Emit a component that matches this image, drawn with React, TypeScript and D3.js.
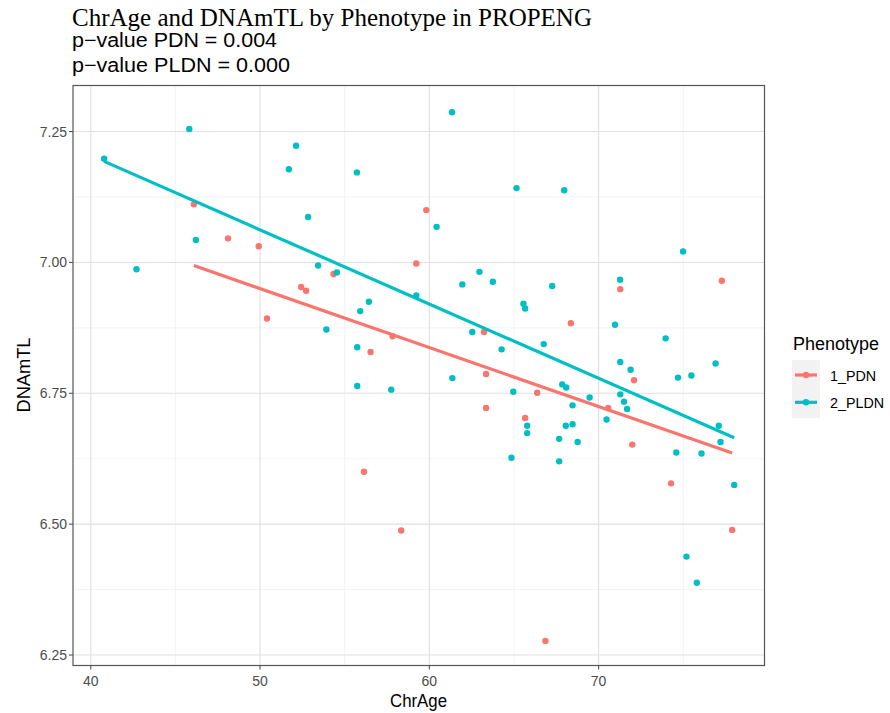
import React from "react";
import * as d3 from "d3";

// ChrAge (x) and DNAmTL (y) per phenotype
const pdnAge = [46.09, 48.11, 49.92, 50.41, 52.43, 52.72, 54.34, 59.82, 59.23, 57.83, 56.53, 63.23, 63.35, 63.35, 56.14, 58.34, 65.66, 66.37, 68.36, 71.28, 72.09, 70.57, 71.99, 74.28, 77.28, 77.89, 66.86];
const pdnTL = [7.111, 7.046, 7.031, 6.893, 6.953, 6.946, 6.978, 7.100, 6.998, 6.859, 6.829, 6.867, 6.787, 6.722, 6.600, 6.488, 6.703, 6.751, 6.884, 6.949, 6.775, 6.722, 6.652, 6.578, 6.965, 6.489, 6.277];

const pldnAge = [40.79, 45.82, 52.13, 51.70, 46.21, 42.70, 55.72, 61.34, 65.15, 52.84, 60.43, 53.43, 54.54, 62.96, 67.97, 74.99, 71.27, 59.23, 56.43, 55.92, 53.92, 55.74, 55.74, 57.75, 61.95, 63.75, 62.54, 64.27, 61.36, 64.96, 64.85, 67.26, 65.56, 65.66, 70.97, 66.76, 73.96, 71.28, 71.89, 76.91, 74.69, 75.48, 67.85, 68.09, 69.47, 71.28, 71.50, 71.68, 68.46, 70.47, 65.78, 65.78, 68.06, 68.46, 77.10, 77.20, 68.76, 67.67, 74.59, 76.08, 67.67, 78.01, 75.19, 75.80];
const pldnTL = [7.198, 7.255, 7.223, 7.178, 7.043, 6.987, 7.172, 7.287, 7.142, 7.087, 7.068, 6.994, 6.981, 6.982, 7.138, 7.021, 6.967, 6.937, 6.925, 6.907, 6.872, 6.838, 6.764, 6.757, 6.958, 6.963, 6.867, 6.834, 6.779, 6.753, 6.627, 6.955, 6.921, 6.912, 6.881, 6.844, 6.855, 6.810, 6.795, 6.807, 6.780, 6.784, 6.767, 6.761, 6.742, 6.748, 6.734, 6.720, 6.727, 6.700, 6.688, 6.674, 6.688, 6.691, 6.688, 6.657, 6.657, 6.663, 6.637, 6.635, 6.620, 6.575, 6.438, 6.388];

// fitted regression lines (start/end)
const pdnFitAge = [46.09, 77.89];
const pdnFitTL = [6.994, 6.636];
const pldnFitAge = [40.79, 78.01];
const pldnFitTL = [7.193, 6.665];

const xTicks = [40, 50, 60, 70];
const yTicks = [6.25, 6.5, 6.75, 7.0, 7.25];
const xMinor = [45, 55, 65, 75];
const yMinor = [6.375, 6.625, 6.875, 7.125];

const groups = ["1_PDN", "2_PLDN"];
const colors = ["#F8766D", "#00BFC4"];

const title = "ChrAge and DNAmTL by Phenotype in PROPENG";
const subtitle1 = "p\u2212value PDN = 0.004";
const subtitle2 = "p\u2212value PLDN = 0.000";

export default function App() {
  const L = 73, R = 764.5, T = 85.5, B = 665.5;
  const x = d3.scaleLinear().domain([38.95, 79.8]).range([L, R]);
  const y = d3.scaleLinear().domain([6.23, 7.338]).range([B, T]);
  const sans = "Liberation Sans, Arial, sans-serif";
  const series = [
    { ax: pdnAge, ay: pdnTL, fx: pdnFitAge, fy: pdnFitTL, c: colors[0] },
    { ax: pldnAge, ay: pldnTL, fx: pldnFitAge, fy: pldnFitTL, c: colors[1] },
  ];
  const line = d3.line<[number, number]>().x((d) => x(d[0])).y((d) => y(d[1]));
  return (
    <svg width={890} height={713} style={{ position: "absolute", left: 0, top: 0, background: "#fff" }}>
      <rect x={0} y={0} width={890} height={713} fill="#fff" />
      <text x={72} y={26} fontFamily="Liberation Serif, Times New Roman, serif" fontSize={24.5} textLength={520} lengthAdjust="spacingAndGlyphs" fill="#000">{title}</text>
      <text x={72} y={47} fontFamily={sans} fontSize={20} textLength={205} lengthAdjust="spacingAndGlyphs" fill="#000">{subtitle1}</text>
      <text x={72} y={72} fontFamily={sans} fontSize={20} textLength={218} lengthAdjust="spacingAndGlyphs" fill="#000">{subtitle2}</text>
      {/* grid */}
      {xMinor.map((v) => (
        <line key={"xm" + v} x1={x(v)} x2={x(v)} y1={T} y2={B} stroke="#EBEBEB" strokeWidth={0.6} />
      ))}
      {yMinor.map((v) => (
        <line key={"ym" + v} y1={y(v)} y2={y(v)} x1={L} x2={R} stroke="#EBEBEB" strokeWidth={0.6} />
      ))}
      {xTicks.map((v) => (
        <line key={"xg" + v} x1={x(v)} x2={x(v)} y1={T} y2={B} stroke="#E0E0E0" strokeWidth={1.1} />
      ))}
      {yTicks.map((v) => (
        <line key={"yg" + v} y1={y(v)} y2={y(v)} x1={L} x2={R} stroke="#E0E0E0" strokeWidth={1.1} />
      ))}
      {/* points */}
      {series.map((s, si) =>
        s.ax.map((a, i) => (
          <circle key={si + "-" + i} cx={x(a)} cy={y(s.ay[i])} r={3.2} fill={s.c} />
        ))
      )}
      {/* fit lines */}
      {series.map((s, si) => (
        <path key={"f" + si} d={line(s.fx.map((a, i) => [a, s.fy[i]]) as [number, number][]) || ""} stroke={s.c} strokeWidth={3.2} fill="none" />
      ))}
      <rect x={L} y={T} width={R - L} height={B - T} fill="none" stroke="#555" strokeWidth={1.2} />
      {/* axes */}
      {xTicks.map((v) => (
        <g key={"xt" + v}>
          <line x1={x(v)} x2={x(v)} y1={B} y2={B + 4} stroke="#555" strokeWidth={1.1} />
          <text x={x(v)} y={B + 20} textAnchor="middle" fontFamily={sans} fontSize={14} fill="#4D4D4D">{v}</text>
        </g>
      ))}
      {yTicks.map((v) => (
        <g key={"yt" + v}>
          <line x1={L - 4} x2={L} y1={y(v)} y2={y(v)} stroke="#555" strokeWidth={1.1} />
          <text x={L - 6} y={y(v) + 5} textAnchor="end" fontFamily={sans} fontSize={14} fill="#4D4D4D">{d3.format(".2f")(v)}</text>
        </g>
      ))}
      <text x={418.5} y={707} textAnchor="middle" fontFamily={sans} fontSize={17.5} textLength={57} lengthAdjust="spacingAndGlyphs" fill="#000">ChrAge</text>
      <text transform={`translate(30,${375}) rotate(-90)`} x={-37.5} y={0} fontFamily={sans} fontSize={17.5} textLength={75} lengthAdjust="spacingAndGlyphs" fill="#000">DNAmTL</text>
      {/* legend */}
      <text x={793} y={349.5} fontFamily={sans} fontSize={17.5} textLength={86} lengthAdjust="spacingAndGlyphs" fill="#000">Phenotype</text>
      {groups.map((g, i) => (
        <g key={g}>
          <rect x={792} y={360 + i * 29} width={28} height={29} fill="#F2F2F2" />
          <line x1={795} x2={817} y1={375 + i * 27.3} y2={375 + i * 27.3} stroke={colors[i]} strokeWidth={3.2} />
          <circle cx={806} cy={375 + i * 27.3} r={3.2} fill={colors[i]} />
          <text x={830} y={380.5 + i * 27.3} fontFamily={sans} fontSize={14.3} fill="#000">{g}</text>
        </g>
      ))}
    </svg>
  );
}
